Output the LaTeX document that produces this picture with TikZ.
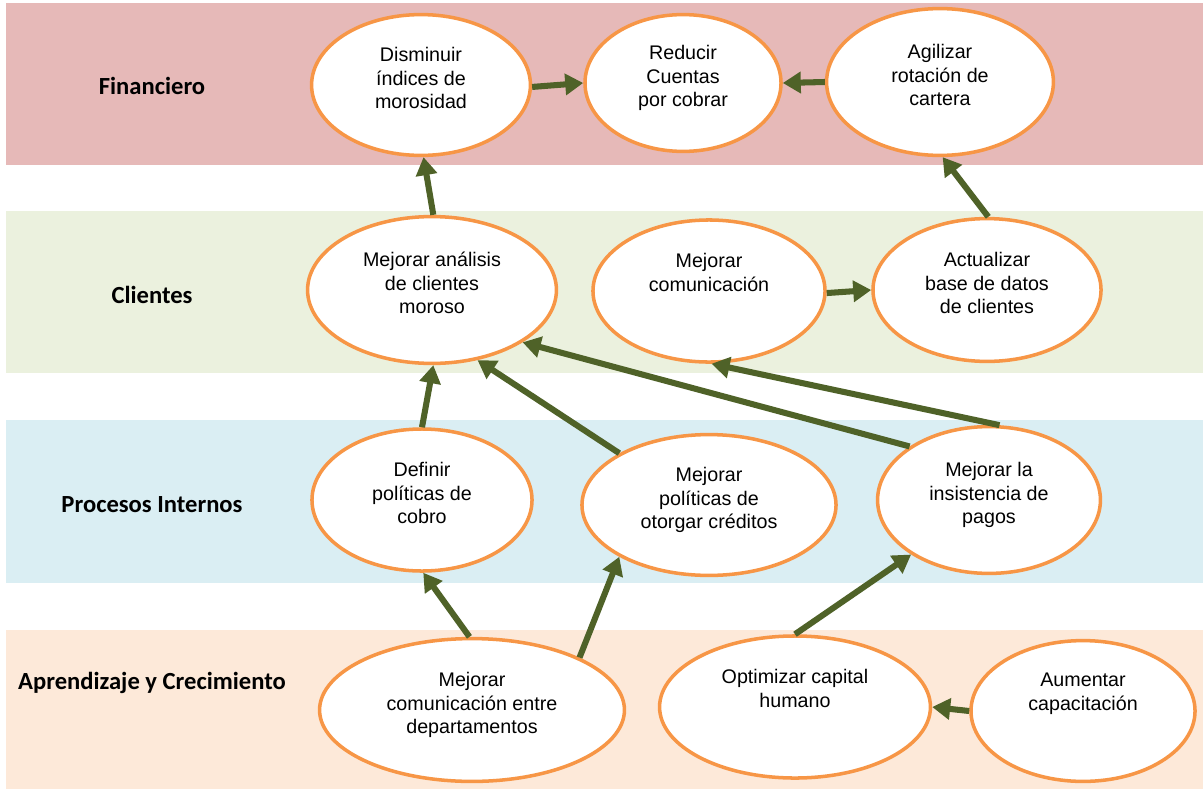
\documentclass[tikz,border=0pt]{standalone}
\usepackage{fontspec}
\setmainfont{Liberation Sans}
\newfontfamily\lanefont{Carlito}
\usetikzlibrary{shapes.geometric,arrows.meta}
\definecolor{finband}{HTML}{E6B9B8}
\definecolor{cliband}{HTML}{EBF1DE}
\definecolor{proband}{HTML}{DAEEF3}
\definecolor{apband}{HTML}{FDE9D9}
\definecolor{goalorange}{HTML}{F79646}
\definecolor{linkgreen}{HTML}{4F6228}
\begin{document}
\begin{tikzpicture}[x=0.025cm,y=-0.025cm,
    goal/.style={ellipse, draw=goalorange, line width=2.5pt, fill=white, inner sep=0pt},
    goaltext/.style={anchor=north, align=center, inner sep=0pt, font=\fontsize{14}{16.7}\selectfont},
    lane/.style={font=\lanefont\bfseries\fontsize{17.5}{21}\selectfont},
    link/.style={line width=4.3pt, draw=linkgreen, -{Triangle[length=0.45cm,width=0.52cm]}}]
    \useasboundingbox (0,0) rectangle (1203,789);
    \fill[white] (0,0) rectangle (1203,789);
    % perspective bands
    \foreach \col/\top/\bot in {finband/3/165, cliband/211/373, proband/420/583, apband/630/789}
        \fill[\col] (6,\top) rectangle (1203,\bot);
    \node[lane] (lfin) at (152,86) {Financiero};
    \node[lane] (lcli) at (152,295) {Clientes};
    \node[lane] (lpro) at (152,505) {Procesos Internos};
    \node[lane] (lapr) at (152,683) {Aprendizaje y Crecimiento};
    % objectives
    \node[goal, minimum width=5.47cm, minimum height=3.52cm] (dism) at (421,85) {};
    \node[goal, minimum width=4.9cm, minimum height=3.42cm] (redu) at (683,83) {};
    \node[goal, minimum width=5.67cm, minimum height=3.67cm] (agil) at (940,82) {};
    \node[goal, minimum width=6.22cm, minimum height=3.67cm] (anal) at (432,290) {};
    \node[goal, minimum width=5.8cm, minimum height=3.55cm] (comu) at (709,291) {};
    \node[goal, minimum width=5.7cm, minimum height=3.57cm] (actu) at (987,290) {};
    \node[goal, minimum width=5.5cm, minimum height=3.55cm] (defi) at (422,500) {};
    \node[goal, minimum width=6.35cm, minimum height=3.52cm] (poli) at (709,505) {};
    \node[goal, minimum width=5.57cm, minimum height=3.67cm] (insi) at (989,500) {};
    \node[goal, minimum width=7.62cm, minimum height=3.57cm] (dept) at (472,710) {};
    \node[goal, minimum width=6.77cm, minimum height=3.55cm] (opti) at (795,707) {};
    \node[goal, minimum width=5.6cm, minimum height=3.52cm] (aume) at (1083,711) {};
    % texts, set from the top of each ellipse
    \node[goaltext] (tdism) at ([yshift=0.95cm]dism.center) {Disminuir\\índices de\\morosidad};
    \node[goaltext] (tredu) at ([yshift=0.95cm]redu.center) {Reducir\\Cuentas\\por cobrar};
    \node[goaltext] (tagil) at ([yshift=0.95cm]agil.center) {Agilizar\\rotación de\\cartera};
    \node[goaltext] (tanal) at ([yshift=0.95cm]anal.center) {Mejorar análisis\\de clientes\\moroso};
    \node[goaltext] (tcomu) at ([yshift=0.95cm]comu.center) {Mejorar\\comunicación};
    \node[goaltext] (tactu) at ([yshift=0.95cm]actu.center) {Actualizar\\base de datos\\de clientes};
    \node[goaltext] (tdefi) at ([yshift=0.95cm]defi.center) {Definir\\políticas de\\cobro};
    \node[goaltext] (tpoli) at ([yshift=0.95cm]poli.center) {Mejorar\\políticas de\\otorgar créditos};
    \node[goaltext] (tinsi) at ([yshift=0.95cm]insi.center) {Mejorar la\\insistencia de\\pagos};
    \node[goaltext] (tdept) at ([yshift=0.95cm]dept.center) {Mejorar\\comunicación entre\\departamentos};
    \node[goaltext] (topti) at ([yshift=0.95cm]opti.center) {Optimizar capital\\humano};
    \node[goaltext] (taume) at ([yshift=0.95cm]aume.center) {Aumentar\\capacitación};
    % cause and effect
    \draw[link] (dism.-1) -- (redu.180);
    \draw[link] (agil.180) -- (redu.0);
    \draw[link] (anal.89) -- (dism.272);
    \draw[link] (actu.89) -- (agil.272);
    \draw[link] (comu.-1) -- (actu.180);
    \draw[link] (defi.90) -- (anal.271);
    \draw[link] (poli.150) -- (anal.303);
    \draw[link] (insi.146) -- (anal.330);
    \draw[link] (insi.82) -- (comu.272);
    \draw[link] (dept.92) -- (defi.271);
    \draw[link] (dept.26) -- (poli.210);
    \draw[link] (opti.90) -- (insi.215);
    \draw[link] (aume.180) -- (opti.0);
\end{tikzpicture}
\end{document}
